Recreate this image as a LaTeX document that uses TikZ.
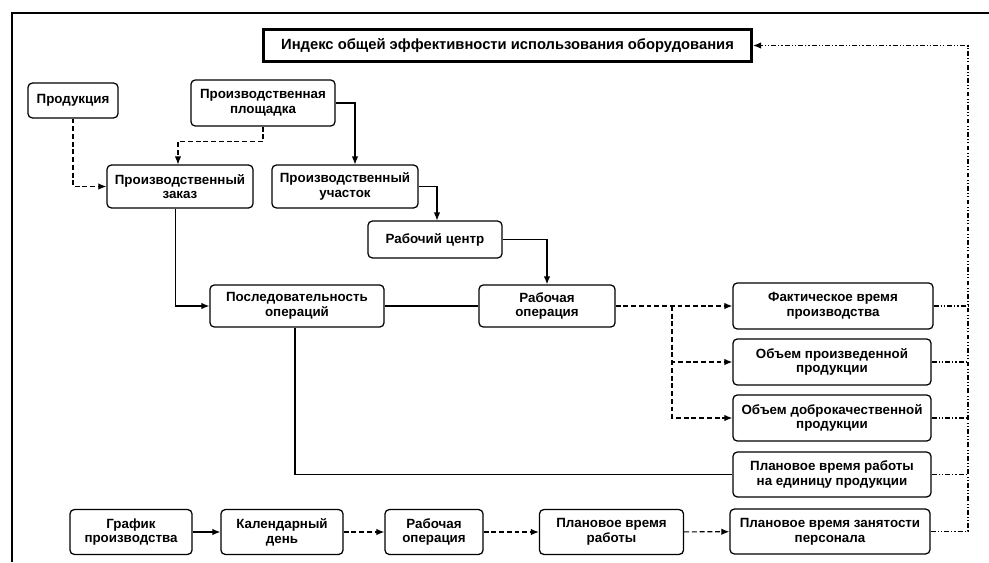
\documentclass[tikz,border=0pt]{standalone}
\usepackage{fontspec}
\setmainfont{Liberation Sans}
\usepackage{tikz}
\usetikzlibrary{arrows.meta}

\tikzset{
    box/.style={draw, line width=0.9pt, rounded corners=3pt, align=center,
        font=\fontsize{9.5}{10.5}\selectfont\bfseries, inner sep=1pt},
    idxbox/.style={draw, line width=2.2pt, align=center,
        font=\fontsize{10.5}{11.5}\selectfont\bfseries, inner sep=1pt},
    link/.style={line width=0.8pt},
    arr/.style={link, -{Latex[length=2mm,width=1.6mm]}},
    dsh/.style={dash pattern=on 3.5pt off 2pt},
    dshdot/.style={dash pattern=on 3.5pt off 1.5pt on 0.8pt off 1.5pt on 0.8pt off 1.5pt},
}

\begin{document}
\begin{tikzpicture}[x=0.25mm, y=-0.25mm]
    \useasboundingbox (0,0) rectangle (989,562);
    \draw[line width=1pt] (12,562) -- (12,13) -- (989,13);

    \node[idxbox, minimum width=122mm, minimum height=8.2mm] (idx) at (507.5,45.5) {Индекс общей эффективности использования оборудования};

    \node[box, minimum width=22.5mm, minimum height=8.7mm] (prod) at (73,100.5) {Продукция};
    \node[box, minimum width=36mm, minimum height=11.5mm] (site) at (263,103) {Производственная\\площадка};
    \node[box, minimum width=36.5mm, minimum height=10.7mm] (order) at (180,186.5) {Производственный\\заказ};
    \node[box, minimum width=36.5mm, minimum height=10.7mm] (area) at (345,186.5) {Производственный\\участок};
    \node[box, minimum width=33.5mm, minimum height=9.2mm] (wc) at (435,239.5) {Рабочий центр};
    \node[box, minimum width=43.5mm, minimum height=10.5mm] (seq) at (297,306) {Последовательность\\операций};
    \node[box, minimum width=34mm, minimum height=10.5mm] (op) at (547,306) {Рабочая\\операция};

    \node[box, minimum width=50mm, minimum height=11.5mm] (fact) at (833,306) {Фактическое время\\производства};
    \node[box, minimum width=49.5mm, minimum height=11.5mm] (vol) at (832,362) {Объем произведенной\\продукции};
    \node[box, minimum width=49.5mm, minimum height=11.5mm] (good) at (832,418) {Объем доброкачественной\\продукции};
    \node[box, minimum width=49.5mm, minimum height=11.2mm] (plan) at (832,474.5) {Плановое время работы\\на единицу продукции};

    \node[box, minimum width=30.5mm, minimum height=11.2mm] (sched) at (131,532) {График\\производства};
    \node[box, minimum width=30.5mm, minimum height=11.2mm] (day) at (282,532) {Календарный\\день};
    \node[box, minimum width=24.5mm, minimum height=11.2mm] (op2) at (434,532) {Рабочая\\операция};
    \node[box, minimum width=36mm, minimum height=11.2mm] (work) at (611.5,532) {Плановое время\\работы};
    \node[box, minimum width=50mm, minimum height=11.2mm] (staff) at (830,531.5) {Плановое время занятости\\персонала};

    \coordinate (br) at (672,306);
    \coordinate (rt) at (968,45.5);

    \draw[arr, dsh] (prod.south) |- (order.west);
    \draw[arr, dsh] (site.south) -- ++(0,15) -| ([xshift=-0.5mm]order.north);
    \draw[arr] (site.east) -| ([xshift=2.5mm]area.north);
    \draw[arr] (area.east) -| ([xshift=0.5mm]wc.north);
    \draw[arr] (wc.east) -| (op.north);
    \draw[arr] ([xshift=-1.2mm]order.south) |- (seq.west);
    \draw[link] (seq.east) -- (op.west);
    \draw[link] ([xshift=-0.5mm]seq.south) |- (plan.west);

    \draw[arr, dsh] (op.east) -- (fact.west);
    \draw[arr, dsh] (br) |- (vol.west);
    \draw[arr, dsh] (br) |- (good.west);

    \draw[link, dshdot] (fact.east) -- (fact.east -| rt);
    \draw[link, dshdot] (vol.east) -- (vol.east -| rt);
    \draw[link, dshdot] (good.east) -- (good.east -| rt);
    \draw[link, dshdot] (plan.east) -- (plan.east -| rt);
    \draw[arr, dshdot] (staff.east) -| (rt) -- (idx.east);

    \draw[arr] (sched) -- (day);
    \draw[arr, dsh] (day) -- (op2);
    \draw[arr, dsh] (op2) -- (work);
    \draw[arr, dsh] (work) -- (staff);
\end{tikzpicture}
\end{document}
